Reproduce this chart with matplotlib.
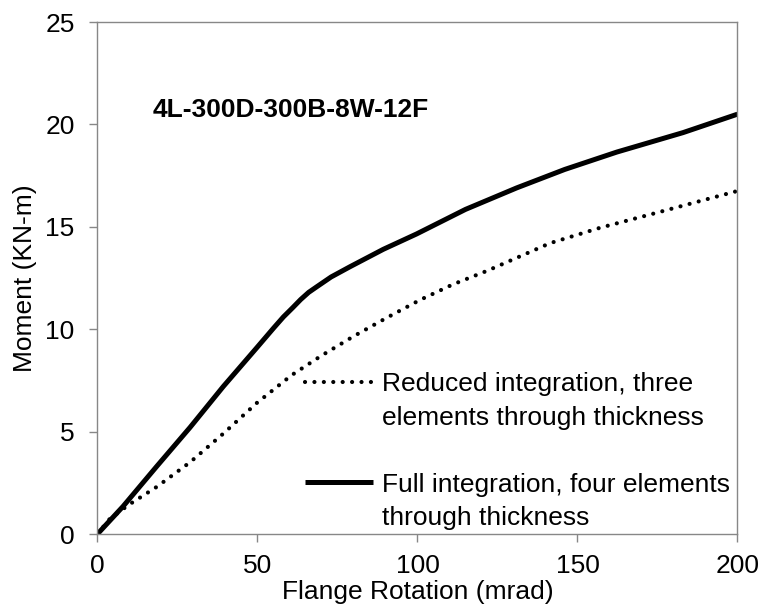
import matplotlib
matplotlib.use('Agg')
import matplotlib.pyplot as plt
from matplotlib.lines import Line2D

plt.rcParams['font.family'] = ['Liberation Sans', 'DejaVu Sans']

# data
rotation_full = [0, 8, 18.5, 28.9, 39.3, 49.8, 55, 58.1, 61, 63.5, 66, 68.5, 73, 78.9, 89.3, 99.7, 115, 131, 146, 162.3, 183, 200]
moment_full = [0, 1.35, 3.3, 5.2, 7.2, 9.1, 10.05, 10.6, 11.05, 11.45, 11.8, 12.07, 12.55, 13.05, 13.9, 14.65, 15.85, 16.9, 17.8, 18.65, 19.6, 20.5]

rotation_reduced = [0, 3.9, 10, 18.5, 28.9, 39.3, 49.8, 60.7, 70, 80.2, 90.4, 100.8, 111.1, 121.9, 141.4, 157, 172.7, 200]
moment_reduced = [0, 0.75, 1.45, 2.3, 3.5, 4.9, 6.4, 7.76, 8.71, 9.67, 10.56, 11.43, 12.19, 12.86, 14.2, 14.95, 15.6, 16.75]

x_ticks = [0, 50, 100, 150, 200]
y_ticks = [0, 5, 10, 15, 20, 25]

label_reduced = ['Reduced integration, three', 'elements through thickness']
label_full = ['Full integration, four elements', 'through thickness']
specimen = '4L-300D-300B-8W-12F'

fs = 19
grey = '#878787'

fig = plt.figure(figsize=(7.61, 6.08), dpi=100)
ax = fig.add_axes([0.1281, 0.1217, 0.8410, 0.8421])

dot_style = dict(color='black', linewidth=3.0, linestyle=(0, (0.01, 2.25)), dash_capstyle='round')
solid_style = dict(color='black', linewidth=3.6, solid_capstyle='butt', solid_joinstyle='round')

ax.plot(rotation_reduced, moment_reduced, **dot_style)
ax.plot(rotation_full, moment_full, **solid_style)

ax.set_xlim(0, 200)
ax.set_ylim(0, 25)
ax.set_xticks(x_ticks)
ax.set_yticks(y_ticks)

for s in ax.spines.values():
    s.set_color(grey)
    s.set_linewidth(1.0)
ax.tick_params(axis='both', direction='out', length=5.5, width=1.0, color=grey, labelsize=fs)
ax.tick_params(axis='x', pad=9)
ax.tick_params(axis='y', pad=11)

ax.set_xlabel('Flange Rotation (mrad)', fontsize=fs, labelpad=1)
ax.set_ylabel('Moment (KN-m)', fontsize=fs, labelpad=6)

ax.text(0.0867, 0.828, specimen, transform=ax.transAxes, fontsize=fs, fontweight='bold', va='center', ha='left')

# legend: one row per text line, handle on the first line of each entry
blank = Line2D([], [], color='none')
handles = [Line2D([], [], **dot_style), blank, blank, Line2D([], [], **solid_style), blank]
labels = [label_reduced[0], label_reduced[1], ' ', label_full[0], label_full[1]]
leg = ax.legend(handles, labels, loc='upper left', bbox_to_anchor=(0.324, 0.316), frameon=False,
                fontsize=fs, handlelength=2.57, handletextpad=0.34, labelspacing=0.36,
                borderpad=0, borderaxespad=0)

fig.savefig('out.png', dpi=100)
